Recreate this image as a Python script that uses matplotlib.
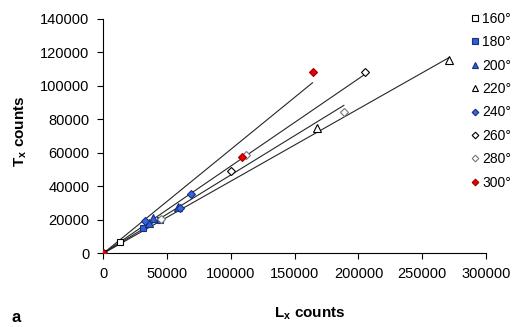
import matplotlib.pyplot as plt
import numpy as np

plt.rcParams['font.family'] = ['Liberation Sans', 'DejaVu Sans']
plt.rcParams['mathtext.fontset'] = 'custom'
plt.rcParams['mathtext.rm'] = 'Liberation Sans'
plt.rcParams['mathtext.bf'] = 'Liberation Sans:bold'

# Lx / Tx counts per angle
angles = ['160°', '180°', '200°', '220°', '240°', '260°', '280°', '300°']
lx = {
    '160°': [0, 13300],
    '180°': [31500, 44600],
    '200°': [39400, 36000, 59000],
    '220°': [0, 167700, 271000],
    '240°': [32900, 60200, 68600],
    '260°': [0, 100400, 205000],
    '280°': [0, 45000, 111500, 188600],
    '300°': [0, 109000, 164000],
}
tx = {
    '160°': [0, 7000],
    '180°': [15000, 20000],
    '200°': [21000, 18000, 27500],
    '220°': [0, 74700, 115500],
    '240°': [19600, 27300, 35500],
    '260°': [0, 49100, 108500],
    '280°': [0, 20500, 58800, 84700],
    '300°': [0, 57800, 108500],
}
# series that get a trendline through the origin
trend = ['220°', '260°', '280°', '300°']

styles = {
    '160°': dict(marker='s', mfc='white', mec='black'),
    '180°': dict(marker='s', mfc='#2f5fd0', mec='#1a2f80'),
    '200°': dict(marker='^', mfc='#2f5fd0', mec='#1a2f80'),
    '220°': dict(marker='^', mfc='white', mec='black'),
    '240°': dict(marker='D', mfc='#3366dd', mec='#1a2f80'),
    '260°': dict(marker='D', mfc='white', mec='black'),
    '280°': dict(marker='D', mfc='white', mec='#777777'),
    '300°': dict(marker='D', mfc='#ee0000', mec='#990000'),
}
sizes = {'s': 5, '^': 5.5, 'D': 4.2}

fig = plt.figure(figsize=(5.16, 3.27), dpi=100)
ax = fig.add_axes([0.2, 0.225, 0.742, 0.717])

for a in trend:
    x = np.array(lx[a], float)
    y = np.array(tx[a], float)
    k = (x * y).sum() / (x * x).sum()
    xs = np.array([0, x.max()])
    ax.plot(xs, k * xs, color='0.15', lw=0.8, zorder=2)

for a in angles:
    st = styles[a]
    ax.plot(lx[a], tx[a], ls='none', ms=sizes[st['marker']], mew=0.8,
            label=a, zorder=3, **st)

ax.set_xlim(0, 300000)
ax.set_ylim(0, 140000)
ax.set_xticks(np.arange(0, 300001, 50000))
ax.set_yticks(np.arange(0, 140001, 20000))
for s in ['top', 'right']:
    ax.spines[s].set_visible(False)
ax.tick_params(direction='out', length=4, width=0.8, labelsize=10.5, colors='black', pad=6)

ax.set_xlabel(r'L$_{\mathbf{x}}$ counts', fontsize=11, fontweight='bold')
ax.set_ylabel(r'T$_{\mathbf{x}}$ counts', fontsize=11, fontweight='bold')
ax.xaxis.set_label_coords(0.54, -0.22)
ax.yaxis.set_label_coords(-0.195, 0.52)
fig.text(0.023, 0.015, 'a', fontsize=12, fontweight='bold')

ax.legend(loc='upper left', bbox_to_anchor=(0.945, 1.055), frameon=False,
          handlelength=0.6, handletextpad=0.25, labelspacing=0.68,
          fontsize=10, borderaxespad=0, markerscale=0.8)

fig.savefig('out.png', dpi=100)
